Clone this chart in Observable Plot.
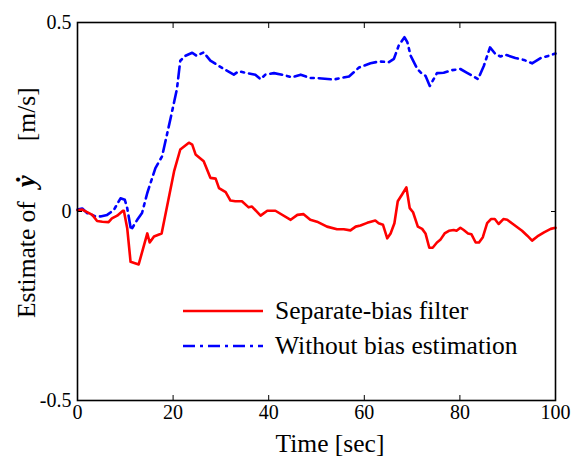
<!DOCTYPE html>
<html>
<head>
<meta charset="utf-8">
<script src="https://cdn.jsdelivr.net/npm/d3@7"></script>
<script src="https://cdn.jsdelivr.net/npm/@observablehq/plot@0.6"></script>
<style>
  html, body { margin: 0; padding: 0; background: white; }
  #wrap { position: relative; width: 572px; height: 460px; font-family: "Liberation Serif", "Times New Roman", serif; }
  #wrap svg text { font-family: "Liberation Serif", "Times New Roman", serif; }
  .leg { position: absolute; left: 183px; display: flex; align-items: center; font-size: 25.5px; color: black; white-space: nowrap; }
  .leg svg { margin-right: 12px; }
</style>
</head>
<body>
<div id="wrap"></div>
<script>
// Separate-bias filter (red, solid)
const redT = [0,1,3.1,4.1,5.2,6.5,7.2,8.3,9.5,9.7,10.4,11.1,12.8,14.6,15.1,16.0,17.6,20.2,21.5,23.3,24,24.7,26.4,27.8,28.9,29.6,31,32,33,34.4,35.8,36.5,38.3,39.7,41.4,44.6,46,47.3,48.7,50.1,52.2,54.3,55.7,57.1,58.2,59.2,60.6,62.3,63.0,63.9,64.8,65.5,66.3,67,67.9,68.8,69.5,70.2,71.2,72.1,72.8,73.6,74.3,75.2,75.9,76.8,77.7,78.7,79.3,80.1,80.8,81.7,82.4,83.3,84,84.8,85.7,86.5,87.3,88.1,89.1,89.9,91.3,93,94.1,95.1,96.2,97.6,99,100];
const redV = [0.003,0.005,-0.009,-0.025,-0.027,-0.028,-0.018,-0.011,0.002,0.002,-0.044,-0.133,-0.14,-0.058,-0.082,-0.066,-0.058,0.106,0.164,0.182,0.177,0.151,0.133,0.089,0.087,0.062,0.051,0.029,0.027,0.027,0.011,0.013,-0.011,0.002,0.002,-0.022,-0.009,-0.007,-0.022,-0.027,-0.04,-0.047,-0.047,-0.05,-0.04,-0.037,-0.03,-0.024,-0.031,-0.035,-0.071,-0.058,-0.031,0.027,0.045,0.064,0.009,-0.002,-0.04,-0.046,-0.058,-0.096,-0.096,-0.082,-0.075,-0.058,-0.051,-0.049,-0.051,-0.043,-0.049,-0.058,-0.06,-0.082,-0.082,-0.068,-0.031,-0.02,-0.02,-0.033,-0.02,-0.022,-0.035,-0.051,-0.064,-0.077,-0.066,-0.055,-0.046,-0.043];

// Without bias estimation (blue, dash-dot)
const blueT = [0,1,2,3.8,4.8,6.2,7.6,9,9.9,10.4,11.2,12.5,13.5,14.6,16.3,17.7,19.5,20.8,21.5,22.6,24,24.9,26.4,27.8,29.2,30.6,32.7,33.7,35.5,37.2,38.3,39.3,41.1,42.8,44.9,46.7,48.7,50.1,53.6,55,56.8,58.9,61.3,63.1,65.1,66.2,67.2,68.4,69,69.7,71.1,72.1,72.8,73.7,74.5,75.2,76.6,78.4,80.1,81.5,82.9,83.8,85,86.3,87.4,88.5,89.5,91.6,93.4,95.1,96.9,98.6,100];
const blueV = [0.005,0.008,-0.004,-0.013,-0.013,-0.009,0.004,0.035,0.031,0.009,-0.049,-0.022,-0.004,0.049,0.115,0.146,0.248,0.324,0.399,0.412,0.42,0.412,0.421,0.399,0.388,0.377,0.362,0.371,0.366,0.362,0.35,0.362,0.366,0.362,0.355,0.362,0.353,0.353,0.349,0.353,0.357,0.381,0.392,0.397,0.395,0.404,0.439,0.461,0.448,0.412,0.377,0.364,0.359,0.332,0.35,0.366,0.367,0.374,0.377,0.367,0.357,0.35,0.385,0.434,0.417,0.41,0.415,0.406,0.401,0.392,0.406,0.412,0.418];

const xTicks = [0, 20, 40, 60, 80, 100];
const xInnerTicks = [20, 40, 60, 80];
const yTicks = [-0.5, 0, 0.5];
const yInnerTicks = [0];
const seriesNames = ["Separate-bias filter", "Without bias estimation"];
const xLabel = "Time [sec]";

const red = redT.map((t, i) => ({t, v: redV[i]}));
const blue = blueT.map((t, i) => ({t, v: blueV[i]}));

const FF = "'Liberation Serif', 'Times New Roman', serif";
const font = {fontFamily: FF, fontSize: "20px", color: "black", background: "white", overflow: "visible"};

const svg = Plot.plot({
  width: 572,
  height: 460,
  marginLeft: 77,
  marginRight: 17,
  marginTop: 22,
  marginBottom: 60,
  style: font,
  x: {domain: [0, 100]},
  y: {domain: [-0.5, 0.5]},
  marks: [
    Plot.line(blue, {x: "t", y: "v", stroke: "#0000ff", strokeWidth: 2.6, strokeDasharray: "12,5,3,5"}),
    Plot.line(red, {x: "t", y: "v", stroke: "#ff0000", strokeWidth: 2.6}),
    Plot.axisX({anchor: "bottom", ticks: xTicks, tickSize: 0, tickPadding: 4, tickFormat: d => String(d), label: null, fontSize: 20, fontFamily: FF}),
    Plot.axisY({anchor: "left", ticks: yTicks, tickSize: 0, tickPadding: 6, tickFormat: d => String(d), label: null, fontSize: 20, fontFamily: FF}),
    Plot.axisX({anchor: "bottom", ticks: xInnerTicks, tickSize: -5, text: null, label: null, strokeWidth: 1}),
    Plot.axisX({anchor: "top", ticks: xInnerTicks, tickSize: -5, text: null, label: null, strokeWidth: 1}),
    Plot.axisY({anchor: "left", ticks: yInnerTicks, tickSize: -5, text: null, label: null, strokeWidth: 1}),
    Plot.axisY({anchor: "right", ticks: yInnerTicks, tickSize: -5, text: null, label: null, strokeWidth: 1}),
    Plot.frame({stroke: "black", strokeWidth: 1.6})
  ]
});

// axis titles
const s = d3.select(svg);
s.append("text")
  .attr("x", 330).attr("y", 452)
  .attr("text-anchor", "middle")
  .style("font-family", FF)
  .attr("font-size", 25.5)
  .attr("fill", "black")
  .text(xLabel);

const yl = s.append("text")
  .attr("transform", "translate(35,318) rotate(-90)")
  .attr("text-anchor", "start")
  .style("font-family", FF)
  .attr("font-size", 25.5)
  .attr("fill", "black");
yl.append("tspan").text("Estimate of");
yl.append("tspan").attr("dx", 14).attr("font-weight", "bold").attr("font-style", "italic").attr("font-size", 27).text("ẏ");
yl.append("tspan").attr("dx", 34).text("[m/s]");

const wrap = document.getElementById("wrap");
wrap.appendChild(svg);

// legend
function legendRow(top, color, dash, label) {
  const row = document.createElement("div");
  row.className = "leg";
  row.style.top = top + "px";
  const ns = "http://www.w3.org/2000/svg";
  const ls = document.createElementNS(ns, "svg");
  ls.setAttribute("width", 80); ls.setAttribute("height", 10);
  const ln = document.createElementNS(ns, "line");
  ln.setAttribute("x1", 0); ln.setAttribute("x2", 80);
  ln.setAttribute("y1", 5); ln.setAttribute("y2", 5);
  ln.setAttribute("stroke", color); ln.setAttribute("stroke-width", 2.6);
  if (dash) ln.setAttribute("stroke-dasharray", dash);
  ls.appendChild(ln);
  row.appendChild(ls);
  const tx = document.createElement("span");
  tx.textContent = label;
  row.appendChild(tx);
  wrap.appendChild(row);
}
legendRow(296, "#ff0000", null, seriesNames[0]);
legendRow(331, "#0000ff", "12,5,3,5", seriesNames[1]);
</script>
</body>
</html>
